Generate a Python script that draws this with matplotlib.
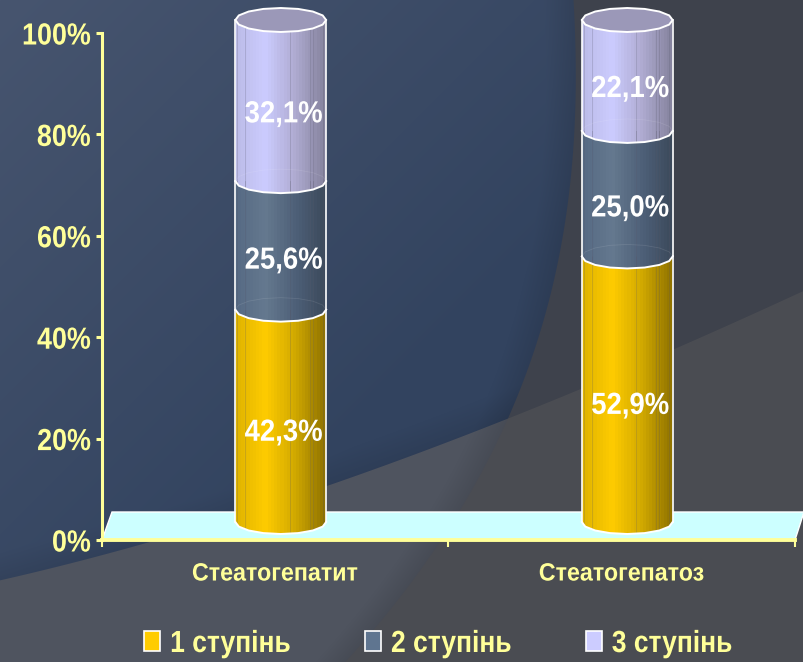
import numpy as np
import matplotlib
matplotlib.use('Agg')
import matplotlib.pyplot as plt
import matplotlib.patheffects as pe
from matplotlib.colors import LinearSegmentedColormap, to_rgb
from matplotlib.patches import Patch, PathPatch, Polygon
from matplotlib.path import Path
from matplotlib.transforms import Affine2D

plt.rcParams['font.family'] = ['Liberation Sans', 'DejaVu Sans']
plt.rcParams['font.weight'] = 'bold'

# Chart values
categories = ['Стеатогепатит', 'Стеатогепатоз']
series_names = ['1 ступінь', '2 ступінь', '3 ступінь']
stage1 = [42.3, 52.9]
stage2 = [25.6, 25.0]
stage3 = [32.1, 22.1]
y_ticks = [0, 20, 40, 60, 80, 100]

W, H = 804, 662
YELLOW = '#ffff99'
ramps = [['#e0b400', '#ffcc00', '#d0a800', '#917400'],
         ['#566a84', '#65798f', '#4e6078', '#3c4a5c'],
         ['#bcbce8', '#ccccff', '#aeaad0', '#86849f']]
legend_colors = ['#ffcc00', '#5f7590', '#ccccff']
top_color = '#9b98b8'
stripes = [0.02, 0.11, 0.60, 0.82, 0.85, 0.96]


class Narrow(pe.AbstractPathEffect):
    # the reference font is condensed, squeeze glyphs around an anchor
    def __init__(self, sx, frac=0.5):
        super().__init__()
        self.sx = sx
        self.frac = frac

    def draw_path(self, renderer, gc, tpath, affine, rgbFace=None):
        ext = tpath.get_extents()
        a = ext.x0 + self.frac * ext.width
        squeeze = Affine2D().translate(-a, 0).scale(self.sx, 1).translate(a, 0)
        renderer.draw_path(gc, tpath, squeeze + affine, rgbFace)


fig = plt.figure(figsize=(W / 100, H / 100), dpi=100)


# Slide background: blue swoosh over grey, one arc and one diagonal edge
def make_background():
    yy, xx = np.mgrid[0:H, 0:W]
    arc_fit = np.polyfit([0, 100, 200, 300, 330, 417, 510, 620, 662],
                         [573, 575, 568, 548, 540, 508, 460, 380, 345], 4)
    arc_x = np.polyval(arc_fit, yy)
    line_fit = np.polyfit([0, 80, 150, 330, 508, 580, 804],
                          [580, 560, 541, 485, 417, 389, 290], 3)
    line_y = np.polyval(line_fit, xx)
    left = np.clip(arc_x - xx + 0.5, 0, 1)[..., None]
    above = np.clip(line_y - yy + 0.5, 0, 1)[..., None]
    t = np.clip((xx + yy) / 800, 0, 1)[..., None]
    blue = (1 - t) * np.array(to_rgb('#47556f')) + t * np.array(to_rgb('#32435f'))
    shade = 1 - 0.10 * np.clip(1 - (arc_x - xx) / 30, 0, 1)[..., None]
    shade2 = 1 - 0.08 * np.clip(1 - (line_y - yy) / 30, 0, 1)[..., None]
    blue = blue * shade * shade2
    grey_low = np.array(to_rgb('#4f545f')) * shade
    right_up = np.full((H, W, 3), to_rgb('#3e424c'))
    right_low = np.full((H, W, 3), to_rgb('#4a4c52'))
    lft = above * blue + (1 - above) * grey_low
    rgt = above * right_up + (1 - above) * right_low
    return left * lft + (1 - left) * rgt


fig.figimage(make_background(), 0, 0, origin='upper', zorder=-1)

# Axis frame: 0% at y=540, 100% at y=33 in pixels
ax = fig.add_axes([102 / W, 1 - 540 / H, 693 / W, 507 / H])
ax.patch.set_visible(False)
ax.set_xlim(-0.5, 1.5)
ax.set_ylim(0, 100)
for s in ['top', 'right']:
    ax.spines[s].set_visible(False)
ax.spines['left'].set_color(YELLOW)
ax.spines['left'].set_linewidth(2.2)
ax.spines['bottom'].set_color(YELLOW)
ax.spines['bottom'].set_linewidth(2.8)
ax.set_yticks(y_ticks)
ax.set_yticklabels([f'{v}%' for v in y_ticks], fontsize=22, color=YELLOW)
ax.tick_params(axis='y', color=YELLOW, length=4, width=2.2, pad=4)
ax.set_xticks([0, 1])
ax.set_xticklabels(categories, fontsize=18, color=YELLOW)
ax.set_xticks([-0.5, 0.5, 1.5], minor=True)
ax.tick_params(axis='x', which='major', length=0, pad=15.5)
ax.tick_params(axis='x', which='minor', color=YELLOW, length=5, width=1.5)
for lab in ax.get_yticklabels():
    lab.set_path_effects([Narrow(0.88, 1)])
for lab in ax.get_xticklabels():
    lab.set_path_effects([Narrow(0.93, 0.5)])

# Floor of the 3D chart
floor = Polygon([(0, 0), (1, 0), (1 + 9 / 693, 28 / 507), (10 / 693, 28 / 507)],
                closed=True, transform=ax.transAxes, facecolor='#ccffff',
                edgecolor='white', linewidth=1, clip_on=False, zorder=1)
ax.add_patch(floor)
ax.spines['bottom'].set_zorder(2)

# Cylinders get their own axes, shifted by the 3D depth
# (0 at y=522, 100 at y=20, with room under zero for the bottom bulge)
ax2 = fig.add_axes([107.5 / W, 1 - 547.1 / H, 693 / W, 527.1 / H])
ax2.axis('off')

half_w = 0.131
half_h = 2.39
theta = np.linspace(0, np.pi, 9)


def draw_segment(x, y0, y1, ramp, first):
    # front surface: bulges down at the bottom, straight up the sides
    bx = x - half_w * np.cos(theta)
    by = y0 - half_h * np.sin(theta)
    px = np.r_[bx, x + half_w, x - half_w]
    py = np.r_[by, y1, y1]
    outline = Path(np.c_[px, py])
    cmap = LinearSegmentedColormap.from_list('c', ramp)
    shade = np.linspace(0, 1, 30)[None, :]
    im = ax2.imshow(shade, cmap=cmap, extent=[x - half_w, x + half_w, y0 - half_h - 1, y1],
                    aspect='auto', zorder=3, interpolation='nearest')
    edge = PathPatch(outline, facecolor='none', edgecolor='none', transform=ax2.transData)
    ax2.add_patch(edge)
    im.set_clip_path(edge)
    for f in stripes:
        sx = x - half_w + f * 2 * half_w
        line, = ax2.plot([sx, sx], [y0 - half_h * 0.8, y1], color='#555566',
                         lw=0.7, alpha=0.22, zorder=3.1)
        line.set_clip_path(edge)
    ax2.plot(bx, by, color='white', lw=1.4, zorder=3.3, clip_on=False)
    ax2.plot([x - half_w] * 2, [y0, y1], color='white', lw=1.2, zorder=3.2, clip_on=False)
    ax2.plot([x + half_w] * 2, [y0, y1], color='white', lw=1.2, zorder=3.2, clip_on=False)
    if not first:
        # faint back rim of the segment joint
        ax2.plot(bx, y0 + half_h * np.sin(theta), color='white', lw=0.6, alpha=0.1,
                 zorder=3.25, clip_on=False)


stacks = [stage1, stage2, stage3]
for i in range(len(categories)):
    bottom = 0
    for k, (vals, ramp) in enumerate(zip(stacks, ramps)):
        draw_segment(i, bottom, bottom + vals[i], ramp, k == 0)
        bottom += vals[i]
    # top cap
    t = np.linspace(0, 2 * np.pi, 17)
    cap = Polygon(np.c_[i + half_w * np.cos(t), bottom + half_h * np.sin(t)], closed=True,
                  facecolor=top_color, edgecolor='white', linewidth=1.4, zorder=3.4,
                  clip_on=False)
    ax2.add_patch(cap)
ax2.set_xlim(-0.5, 1.5)
ax2.set_ylim(-5, 100)

# Value labels follow the axis frame scale, drawn over the cylinders
bottom = [0, 0]
for vals in stacks:
    for i, v in enumerate(vals):
        ax2.text(i + 0.024, bottom[i] + v / 2, f'{v:.1f}%'.replace('.', ','), color='white',
                 fontsize=22, ha='center', va='center', zorder=5, transform=ax.transData,
                 path_effects=[Narrow(0.9, 0.5)])
        bottom[i] += v

handles = [Patch(facecolor=c, edgecolor='white', linewidth=1.2) for c in legend_colors]
leg = fig.legend(handles, series_names, loc='center', bbox_to_anchor=(447.5 / W, 1 - 644 / H),
                 ncol=3, frameon=False, fontsize=22, labelcolor=YELLOW, handlelength=0.52,
                 handleheight=0.62, handletextpad=0.33, columnspacing=1.82)
for txt in leg.get_texts():
    txt.set_path_effects([Narrow(0.865, 0)])

fig.savefig('out.png', dpi=100)
